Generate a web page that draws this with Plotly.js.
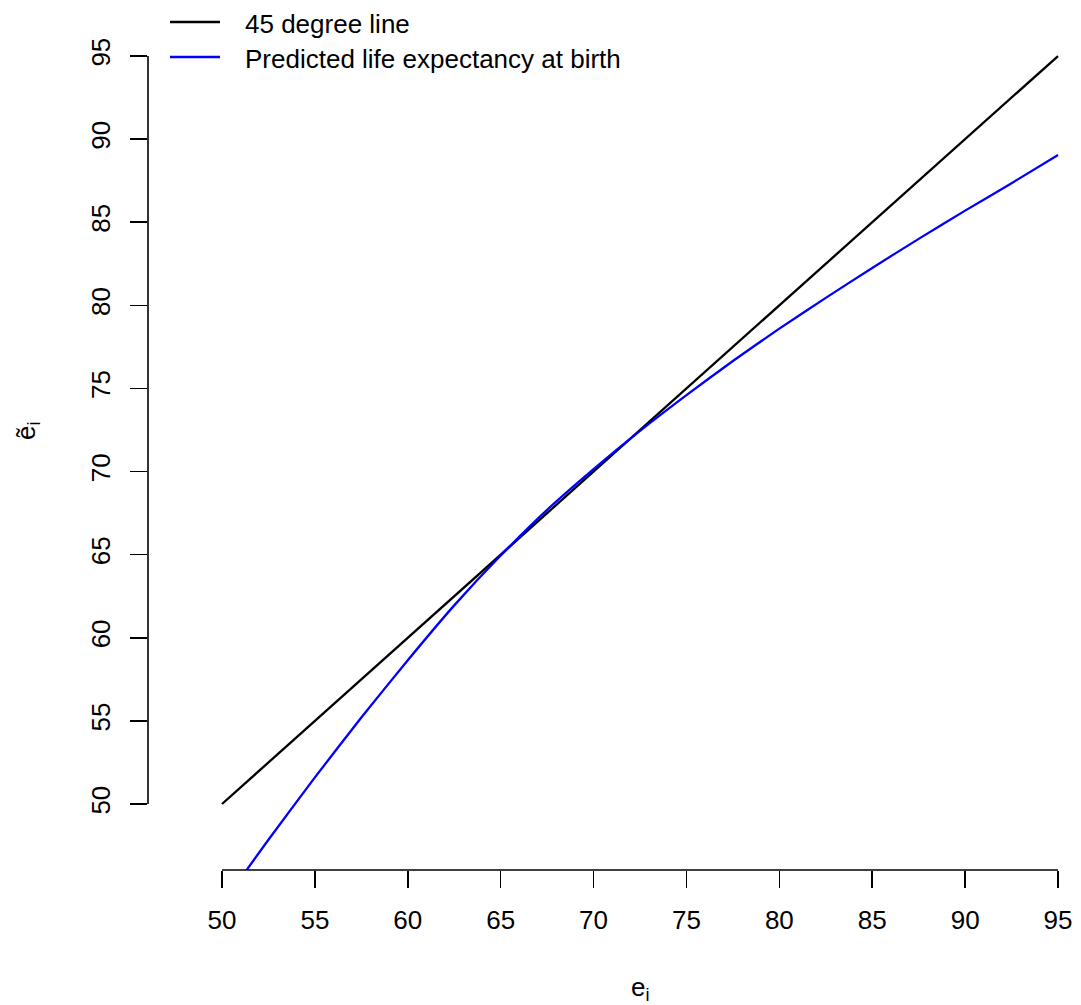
<!DOCTYPE html>
<html>
<head>
<meta charset="utf-8">
<script src="https://cdn.plot.ly/plotly-3.0.1.min.js"></script>
<style>html,body{margin:0;padding:0;background:#fff;}#chart{width:1081px;height:1005px;}</style>
</head>
<body>
<div id="chart"></div>
<script>
// Data
const lineX = [50, 95];
const lineY = [50, 95];
const predX = [50, 52.5, 55, 57.5, 60, 62.5, 65, 67.5, 70, 72.5, 75, 77.5, 80, 82.5, 85, 87.5, 90, 92.5, 95];
const predY = [43.96, 47.85, 51.6, 55.2, 58.65, 61.95, 64.95, 67.7, 70.15, 72.45, 74.6, 76.65, 78.6, 80.45, 82.25, 84.0, 85.7, 87.35, 89.05];
const tickVals = [50, 55, 60, 65, 70, 75, 80, 85, 90, 95];
const legendNames = ["45 degree line", "Predicted life expectancy at birth"];
const colors = ["#000000", "#0000ff"];

const FONT = "Liberation Sans, Arial, Helvetica, sans-serif";
const W = 1081, H = 1005;
const mL = 148, mR = 14, mT = 10, mB = 135;
const pw = W - mL - mR, ph = H - mT - mB;
const px2x = p => (p - mL) / pw;
const py2y = p => (H - mB - p) / ph;

const traces = [
  {x: lineX, y: lineY, type: 'scatter', mode: 'lines', name: legendNames[0],
   line: {color: colors[0], width: 2.3}, hoverinfo: 'skip'},
  {x: predX, y: predY, type: 'scatter', mode: 'lines', name: legendNames[1],
   line: {color: colors[1], width: 2.3, shape: 'spline', smoothing: 0.6}, hoverinfo: 'skip'}
];

const legendRows = [22, 57];
const shapes = [
  {type: 'line', xref: 'x', yref: 'paper', x0: tickVals[0], x1: tickVals[tickVals.length-1], y0: 0, y1: 0,
   line: {color: '#000', width: 1.6}},
  {type: 'line', xref: 'paper', yref: 'y', x0: 0, x1: 0, y0: tickVals[0], y1: tickVals[tickVals.length-1],
   line: {color: '#000', width: 1.6}}
];
const annotations = [];
legendNames.forEach((n, i) => {
  shapes.push({type: 'line', xref: 'paper', yref: 'paper', x0: px2x(170), x1: px2x(220),
    y0: py2y(legendRows[i]), y1: py2y(legendRows[i]), line: {color: colors[i], width: 2.3}});
  annotations.push({xref: 'paper', yref: 'paper', x: px2x(243), y: py2y(legendRows[i] + 2),
    xanchor: 'left', yanchor: 'middle', showarrow: false, text: n,
    font: {family: FONT, size: 26, color: '#000'}});
});
annotations.push({xref: 'paper', yref: 'paper', x: px2x(640), y: py2y(988), xanchor: 'center', yanchor: 'middle',
  showarrow: false, text: 'e<sub>i</sub>', font: {family: FONT, size: 26, color: '#000'}});
annotations.push({xref: 'paper', yref: 'paper', x: px2x(27), y: py2y(430), xanchor: 'center', yanchor: 'middle',
  showarrow: false, textangle: -90, text: 'ẽ<sub>i</sub>', font: {family: FONT, size: 26, color: '#000'}});

const layout = {
  width: W, height: H,
  margin: {l: mL, r: mR, t: mT, b: mB, pad: 0},
  paper_bgcolor: '#fff', plot_bgcolor: '#fff',
  showlegend: false,
  font: {family: FONT, size: 26, color: '#000'},
  xaxis: {range: [46.017, 46.017 + pw / 18.578], tickvals: tickVals, ticktext: tickVals.map(String),
    ticks: 'outside', ticklen: 17, tickwidth: 1.6, tickcolor: '#000',
    showline: false, showgrid: false, zeroline: false, ticklabelstandoff: 10,
    tickfont: {family: FONT, size: 26, color: '#000'}},
  yaxis: {range: [46.03, 46.03 + ph / 16.622], tickvals: tickVals, ticktext: tickVals.map(String),
    ticks: 'outside', ticklen: 17, tickwidth: 1.6, tickcolor: '#000', tickangle: -90,
    showline: false, showgrid: false, zeroline: false, ticklabelstandoff: 10,
    tickfont: {family: FONT, size: 26, color: '#000'}},
  shapes: shapes,
  annotations: annotations
};

Plotly.newPlot('chart', traces, layout, {staticPlot: true});
</script>
</body>
</html>
